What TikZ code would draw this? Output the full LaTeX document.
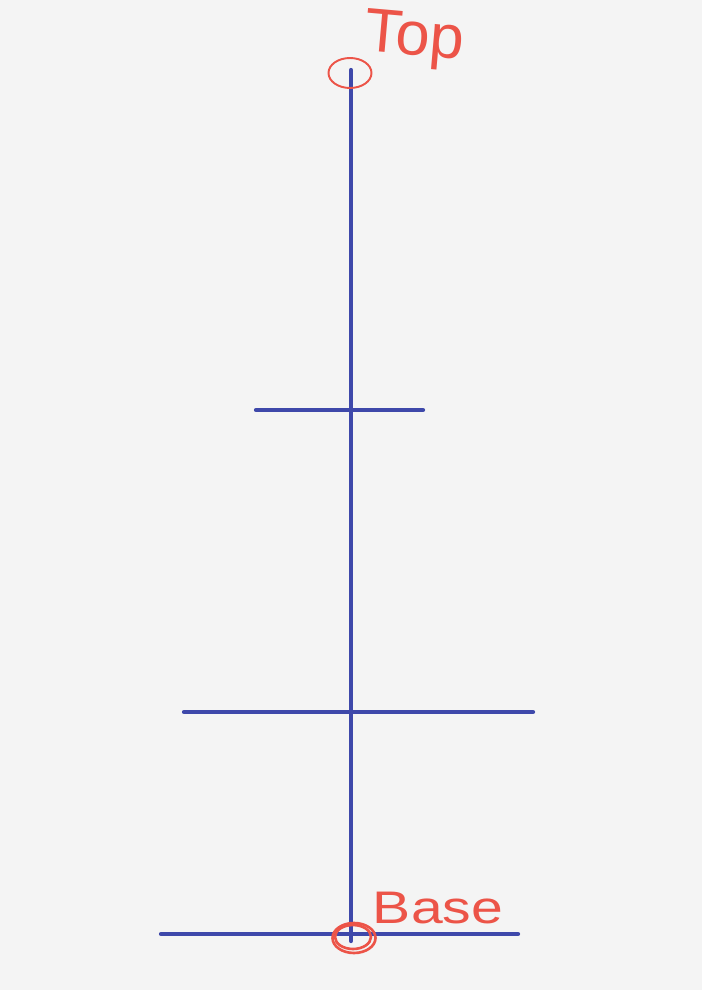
\documentclass[tikz,border=0pt]{standalone}
\usepackage{fontspec}
\setmainfont{Liberation Sans}
\usetikzlibrary{shapes.geometric}
\definecolor{penblue}{RGB}{62,72,170}
\definecolor{penred}{RGB}{236,84,72}
\definecolor{paper}{RGB}{244,244,244}

\begin{document}
\begin{tikzpicture}[x=0.02cm,y=-0.02cm,
  pen/.style={draw=penblue,line width=2.4pt,line cap=round},
  ringmark/.style={ellipse,draw=penred,line width=1.1pt,minimum width=0.86cm,minimum height=0.6cm,inner sep=0pt},
  every node/.style={text=penred}]
\fill[paper] (0,0) rectangle (702,990);
\useasboundingbox (0,0) rectangle (702,990);

% mast
\coordinate (top) at (351,70);
\coordinate (base) at (351,941);
\draw[pen] (top) -- (base);

% cross bars
\coordinate (b1l) at (256,410);
\coordinate (b1r) at (423,410);
\coordinate (b2l) at (184,712);
\coordinate (b2r) at (533,712);
\coordinate (b3l) at (161,934);
\coordinate (b3r) at (518,934);
\draw[pen] (b1l) -- (b1r);
\draw[pen] (b2l) -- (b2r);
\draw[pen] (b3l) -- (b3r);

% marks
\node[ringmark] (topring) at (350,73) {};
\node[ringmark,line width=1.5pt] (basering) at (354,938) {};
\node[ringmark,line width=1.5pt,minimum width=0.72cm,minimum height=0.48cm] (basering2) at (353,937) {};
\node[font=\fontsize{35}{38}\selectfont,rotate=-5,inner sep=1pt] (toplabel) at (414,40) {Top};
\node[font=\fontsize{26}{30}\selectfont,xscale=1.25] (baselabel) at (438,908) {Base};
\end{tikzpicture}
\end{document}
